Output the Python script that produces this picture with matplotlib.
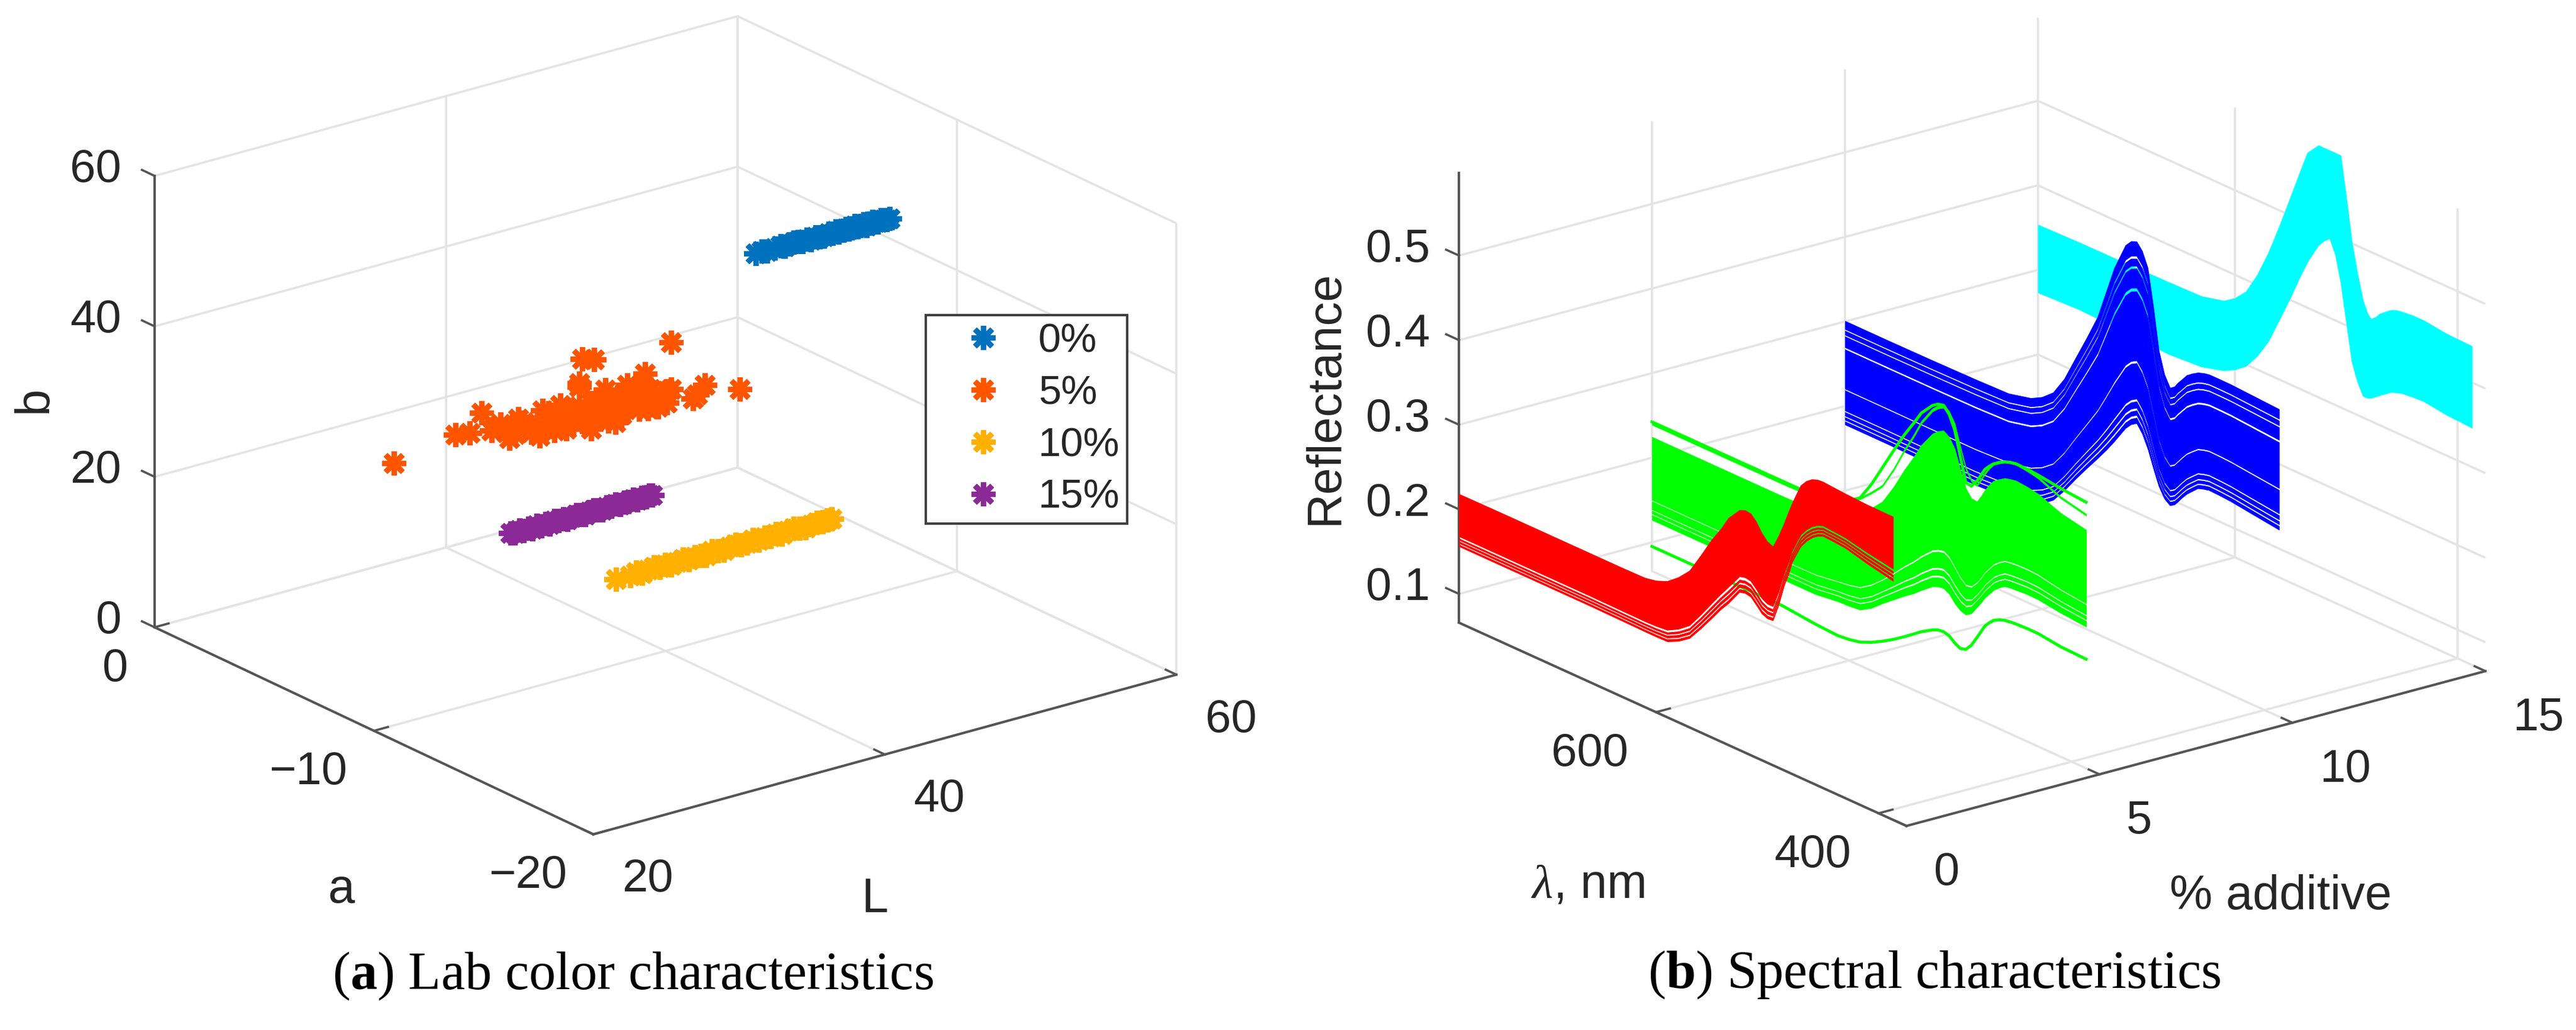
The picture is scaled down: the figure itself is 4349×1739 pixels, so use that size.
import numpy as np
import matplotlib
matplotlib.use("Agg")
from matplotlib import pyplot as plt
from mpl_toolkits.mplot3d import proj3d

W, H, DPI = 4349, 1739, 300

# panel (a): Lab values per additive level
lab0_L = [49.2, 49.6, 50.0, 50.5, 50.9, 51.2, 51.5, 51.8, 52.1, 52.4, 52.7, 53.0, 53.3, 53.6, 53.9, 54.2, 54.5, 54.7,
          54.9, 55.2, 55.4, 55.6, 55.8, 56.0, 56.2, 56.4, 56.6, 56.8, 57.0, 57.2, 57.4, 57.6, 57.8, 58.0, 58.2, 58.4]
lab0_a = [-8.0] * 36
lab0_b = [45.2, 45.3, 45.1, 45.2, 45.3, 45.1, 45.2, 45.3, 45.2, 45.1, 45.2, 45.0, 45.2, 45.1, 45.0, 45.2, 45.1, 45.3,
          45.0, 45.1, 45.2, 45.0, 45.1, 45.3, 45.0, 45.1, 45.2, 44.9, 45.1, 45.2, 45.0, 44.9, 45.1, 45.0, 44.9, 45.0]

lab5_L = [33.8, 35.9, 37.7, 40.6, 43.3, 44.6, 46.4, 31.9, 36.1, 37.3, 38.6, 40.4, 41.9, 43.1, 44.9, 47.2, 38.8, 39.6, 44.9, 49.6,
          25.9, 30.1, 31.1, 33.2, 34.8, 36.5, 39.0, 40.9, 42.3, 44.0,
          35.0, 37.0, 38.0, 39.5, 41.2, 42.8, 33.6, 36.0, 40.2, 41.5, 43.0, 38.8, 37.5, 34.2,
          32.6, 34.0, 35.3, 35.7, 36.9, 37.3, 38.2, 38.6, 39.4, 39.8, 40.2, 41.5, 41.5, 42.5, 43.5, 44.0, 44.6, 42.7, 41.1, 39.4,
          36.5, 34.4, 46.7, 38.6]
lab5_a = [-7.0] * 68
lab5_b = [27.4, 26.6, 26.6, 26.1, 26.3, 26.4, 26.0, 31.8, 29.9, 30.0, 31.7, 30.4, 30.2, 31.1, 28.1, 27.4, 35.3, 34.8, 34.3, 25.6,
          28.3, 29.9, 29.6, 29.6, 29.0, 28.1, 27.8, 27.9, 28.1, 27.3,
          28.4, 27.6, 28.8, 29.0, 28.9, 29.2, 28.3, 27.8, 28.2, 27.0, 27.4, 27.0, 28.4, 27.8,
          29.1, 28.9, 27.4, 28.5, 26.8, 28.2, 27.2, 29.1, 29.2, 26.8, 29.2, 26.5, 28.6, 29.6, 28.8, 26.2, 28.0, 26.6, 25.7, 25.7,
          29.4, 29.7, 26.4, 32.2]

lab10_L = [36.6, 37.6, 38.0, 38.4, 38.8, 39.2, 39.6, 40.0, 40.4, 40.8, 41.2, 41.6, 42.0, 42.4, 42.8, 43.2, 43.6, 44.0, 44.4,
           44.8, 45.2, 45.6, 46.0, 46.4, 46.8, 47.2, 47.6, 48.0, 48.4, 48.8, 49.2, 49.6, 50.0, 50.4, 50.8, 51.1, 51.4]
lab10_a = [-10.0] * 37
lab10_b = [11.3, 11.3, 11.5, 11.2, 11.4, 11.6, 11.3, 11.5, 11.2, 11.4, 11.6, 11.3, 11.5, 11.4, 11.2, 11.6, 11.4, 11.3, 11.5,
           11.6, 11.3, 11.4, 11.6, 11.3, 11.5, 11.4, 11.6, 11.3, 11.5, 11.6, 11.4, 11.3, 11.5, 11.6, 11.4, 11.5, 11.5]

lab15_L = [36.9, 37.2, 37.5, 37.8, 38.1, 38.4, 38.7, 39.0, 39.3, 39.6, 39.9, 40.2, 40.5, 40.8, 41.1, 41.4, 41.7,
           42.0, 42.3, 42.6, 42.9, 43.2, 43.5, 43.8, 44.1, 44.4, 44.7, 45.0, 45.3, 45.6, 45.9, 46.2, 46.4, 46.6]
lab15_a = [-5.0] * 34
lab15_b = [10.4, 10.3, 10.5, 10.3, 10.4, 10.2, 10.5, 10.3, 10.4, 10.2, 10.5, 10.3, 10.4, 10.2, 10.3, 10.5, 10.3,
           10.2, 10.4, 10.5, 10.3, 10.2, 10.4, 10.3, 10.5, 10.2, 10.4, 10.3, 10.5, 10.2, 10.4, 10.3, 10.4, 10.3]

lab_labels = ["0%", "5%", "10%", "15%"]
lab_colors = ["#0072BD", "#FF5400", "#FFB000", "#8B2A96"]

L_ticks = [20, 40, 60]
a_ticks = [-20, -10, 0]
b_ticks = [0, 20, 40, 60]

# panel (b): envelopes of the spectra, one pair per additive level
wavelength = np.array([777, 740, 700, 660, 630, 610, 600, 590, 580, 570, 560, 550, 542, 535, 525, 520, 515, 510,
                       505, 500, 495, 490, 485, 481, 478, 474, 470, 465, 460, 455, 450, 440, 430, 410, 387])

cyan_high = np.array([.3535, .3547, .355, .3558, .3567, .3634, .3725, .3864, .412, .444, .482, .5224, .555, .5831, .598, .598, .598, .598,
                      .598, .552, .5023, .468, .4386, .426, .421, .425, .4317, .437, .442, .445, .446, .4475, .4475, .444, .443])
cyan_low = np.array([.2732, .2753, .2734, .2706, .2734, .2809, .288, .2981, .316, .3392, .371, .4034, .431, .4538, .4798, .488, .4938, .478,
                     .4473, .403, .3596, .339, .3254, .3255, .3273, .331, .3353, .34, .3449, .3475, .3496, .351, .3517, .348, .3463])
blue_high = np.array([.3008, .3007, .301, .3017, .3028, .3093, .3165, .3279, .35, .3802, .41, .4413, .477, .5082, .5408, .5485, .5513, .543,
                      .5261, .483, .4341, .409, .3962, .4, .4062, .413, .42, .425, .4291, .4315, .4329, .433, .4328, .4313, .4295])
blue_low = np.array([.1782, .1781, .1775, .1769, .1792, .1846, .191, .2008, .218, .2375, .256, .274, .289, .3031, .3246, .332, .3364, .327,
                     .3121, .292, .2736, .262, .2571, .2605, .2657, .273, .2796, .286, .2922, .2945, .2961, .2955, .2945, .2909, .2869])
green_high = np.array([.2246, .2246, .2246, .2246, .2255, .231, .237, .246, .258, .2718, .295, .3217, .341, .3597, .379, .385, .3886, .384,
                       .3731, .352, .3324, .3235, .3227, .332, .3402, .349, .3562, .361, .3653, .367, .3683, .367, .3646, .3542, .3479])
green_low = np.array([.1264, .1264, .1264, .1264, .1264, .13, .1305, .132, .14, .1514, .162, .1724, .18, .188, .1984, .2012, .2022, .1985,
                      .1904, .185, .183, .1875, .1978, .206, .2131, .22, .227, .233, .2374, .2385, .239, .24, .2397, .236, .2333])
green_top = np.array([.2424, .2424, .2424, .2424, .2426, .249, .255, .2644, .286, .3119, .338, .3632, .381, .3975, .4124, .417, .4185, .411,
                      .3954, .367, .339, .338, .347, .357, .3648, .371, .3763, .381, .3845, .387, .3883, .388, .3868, .3832, .3805])
green_bottom = np.array([.0951, .0951, .0951, .0951, .091, .0895, .091, .0938, .0995, .1068, .115, .1242, .132, .139, .1471, .15, .1509, .149,
                         .1436, .14, .142, .15, .1621, .172, .1797, .186, .1913, .195, .1972, .1982, .1989, .1995, .1995, .196, .195])
red_high = np.array([.2182, .2185, .2185, .2185, .2185, .2189, .2215, .2269, .2375, .2512, .275, .3, .317, .3344, .3498, .3525, .3517, .345,
                     .3346, .3275, .3248, .34, .3581, .374, .3853, .399, .4119, .42, .425, .4275, .4281, .427, .426, .4247, .4244])
red_low = np.array([.1562, .1562, .1562, .1562, .1557, .1553, .1552, .1556, .162, .1713, .1885, .2069, .222, .2336, .2529, .2545, .2532, .2465,
                    .2393, .2365, .2372, .258, .2845, .30, .3155, .328, .3398, .349, .356, .361, .3638, .363, .3617, .3549, .3484])

# parts of each envelope that are covered by spectra, the rest stays as gaps
cyan_bands = [(0, 1)]
blue_bands = [(0, .03), (.045, .07), (.085, .12), (.135, .33), (.345, .725), (.745, .85), (.865, .905), (.92, 1)]
green_bands = [(0, .06), (.075, .11), (.125, .225), (.24, 1), (1.145, 1.165)]
red_bands = [(0, .035), (.06, .095), (.12, .15), (.19, 1)]

pct_ticks = [0, 5, 10, 15]
wave_ticks = [400, 600]
refl_ticks = [0.1, 0.2, 0.3, 0.4, 0.5]

AXIS_COLOR = "#555555"
GRID_COLOR = "#e4e4e4"
TEXT_COLOR = "#262626"
TICK_PT = 18.7
LABEL_PT = 19.5

plt.rcParams["font.family"] = ["Liberation Sans", "DejaVu Sans"]
plt.rcParams["mathtext.fontset"] = "custom"
plt.rcParams["mathtext.it"] = "Liberation Serif:italic"
plt.rcParams["mathtext.rm"] = "Liberation Serif"
plt.rcParams["mathtext.bf"] = "Liberation Serif:bold"
plt.rcParams["grid.color"] = GRID_COLOR
plt.rcParams["grid.linewidth"] = 0.9


def style_axes(ax):
    ax.set_facecolor("none")
    for axis in (ax.xaxis, ax.yaxis, ax.zaxis):
        axis.set_pane_color((1, 1, 1, 0))
        axis.pane.set_edgecolor("none")
        axis.line.set_color(AXIS_COLOR)
        axis.line.set_linewidth(1.0)
        axis._axinfo["tick"]["inward_factor"] = 0
        axis._axinfo["tick"]["outward_factor"] = 0.3
        axis._axinfo["tick"]["linewidth"] = {True: 0.9, False: 0.9}
        axis.set_ticklabels([])
    # z ticks run along the second horizontal axis, as in the original
    ax.zaxis._get_tickdir = lambda position: 1
    ax.zaxis._axinfo["tick"]["outward_factor"] = 0.36
    ax.tick_params(axis="both", color=AXIS_COLOR)
    ax.tick_params(axis="z", color=AXIS_COLOR)


def tick_texts(ax, points, dx, dy, ha="center"):
    # writes tick labels at a fixed pixel offset from the projected tick position
    for x, y, z, value in points:
        x2, y2, _ = proj3d.proj_transform(x, y, z, ax.get_proj())
        text = f"{value:g}".replace("-", "\u2212")
        ax.annotate(text, xy=(x2, y2), xycoords="data", xytext=(dx, -dy - 4), textcoords="offset pixels",
                    ha=ha, va="center", fontsize=TICK_PT, color=TEXT_COLOR, annotation_clip=False)


def fit_axes(fig, ax, corner0, corner1, target0, target1):
    # moves the square axes so that two box corners land on given image pixels
    side = 800
    ax.set_position([0.25, 0.25, side / W, side / H])
    fig.canvas.draw()
    pts = []
    for c in (corner0, corner1):
        x, y, _ = proj3d.proj_transform(c[0], c[1], c[2], ax.get_proj())
        pts.append(ax.transData.transform((x, y)))
    t0 = np.array([target0[0], H - target0[1]], dtype=float)
    t1 = np.array([target1[0], H - target1[1]], dtype=float)
    scale = np.linalg.norm(t1 - t0) / np.linalg.norm(pts[1] - pts[0])
    center = np.array([0.25 * W + side / 2, 0.25 * H + side / 2])
    new_side = side * scale
    new_center = t0 - (pts[0] - center) * scale
    ax.set_position([(new_center[0] - new_side / 2) / W, (new_center[1] - new_side / 2) / H,
                     new_side / W, new_side / H])


def put_text(fig, x, y, text, **kwargs):
    fig.text(x / W, 1 - y / H, text, ha="center", va="center", **kwargs)


def draw_lab(fig):
    ax = fig.add_subplot(projection="3d", proj_type="ortho", computed_zorder=False)
    ax.view_init(elev=21.07, azim=-127.3, roll=0)
    ax.set_box_aspect((1237, 1222, 816.5))
    series = [(lab0_L, lab0_a, lab0_b), (lab5_L, lab5_a, lab5_b), (lab10_L, lab10_a, lab10_b), (lab15_L, lab15_a, lab15_b)]
    for (l_val, a_val, b_val), name, color in zip(series, lab_labels, lab_colors):
        ax.plot(l_val, a_val, b_val, linestyle="none", marker=(8, 2, 0), markersize=9.8,
                markeredgewidth=2.2, color=color, label=name)
    ax.set_xlim(20, 60, view_margin=0)
    ax.set_ylim(-20, 0, view_margin=0)
    ax.set_zlim(0, 60, view_margin=0)
    ax.set_xticks(L_ticks)
    ax.set_yticks(a_ticks)
    ax.set_zticks(b_ticks)
    style_axes(ax)
    tick_texts(ax, [(t, -20, 0, t) for t in L_ticks], 92, 72)
    tick_texts(ax, [(20, t, 0, t) for t in a_ticks], -45, 66, ha="right")
    tick_texts(ax, [(20, 0, t, t) for t in b_ticks], -56, -15, ha="right")
    fit_axes(fig, ax, (60, -20, 0), (20, 0, 60), (1986, 1139), (261, 297))
    ax.legend(loc="upper left", bbox_to_anchor=(1563 / W, 1 - 532 / H), bbox_transform=fig.transFigure,
              borderaxespad=0, fontsize=16.5, fancybox=False, framealpha=1, edgecolor="#404040",
              numpoints=1, borderpad=0.18, handlelength=2.46, handletextpad=0.12, labelspacing=0.347,
              labelcolor=TEXT_COLOR).get_frame().set_linewidth(1.0)
    put_text(fig, 576, 1503, "a", fontsize=LABEL_PT, color=TEXT_COLOR)
    put_text(fig, 1477, 1519, "L", fontsize=LABEL_PT, color=TEXT_COLOR)
    put_text(fig, 58, 674, "b", fontsize=LABEL_PT, color=TEXT_COLOR, rotation=90)
    return ax


def draw_band(ax, pct, low, high, bands, color, order):
    for lo, hi in bands:
        z1 = low + lo * (high - low)
        z2 = low + hi * (high - low)
        ax.fill_between(pct, wavelength, z1, pct, wavelength, z2, mode="polygon", shade=False,
                        facecolor=color, edgecolor=color, linewidth=0.2, zorder=order)


def draw_spectra(fig):
    ax = fig.add_subplot(projection="3d", proj_type="ortho", computed_zorder=False)
    ax.view_init(elev=20.4, azim=-127.5, roll=0)
    ax.set_box_aspect((1234, 1243, 812))
    draw_band(ax, 15, cyan_low, cyan_high, cyan_bands, "#00ffff", 2)
    draw_band(ax, 10, blue_low, blue_high, blue_bands, "#0000ff", 3)
    draw_band(ax, 5, green_low, green_high, green_bands, "#00ff00", 4)
    ax.plot(np.full(len(wavelength), 5), wavelength, green_top, color="#00ff00", linewidth=1.2, zorder=4)
    ax.plot(np.full(len(wavelength), 5), wavelength, green_bottom, color="#00ff00", linewidth=1.2, zorder=4)
    draw_band(ax, 0, red_low, red_high, red_bands, "#ff0000", 5)
    ax.set_xlim(0, 15, view_margin=0)
    ax.set_ylim(375, 777, view_margin=0)
    ax.set_zlim(0.066, 0.598, view_margin=0)
    ax.set_xticks(pct_ticks)
    ax.set_yticks(wave_ticks)
    ax.set_zticks(refl_ticks)
    style_axes(ax)
    tick_texts(ax, [(t, 375, 0.066, t) for t in pct_ticks], 46, 75, ha="left")
    tick_texts(ax, [(0, t, 0.066, t) for t in wave_ticks], -112, 66)
    tick_texts(ax, [(0, 777, t, t) for t in refl_ticks], -49, -14, ha="right")
    fit_axes(fig, ax, (15, 375, 0.066), (0, 777, 0.598), (4196, 1133), (2462, 294))
    put_text(fig, 2681, 1494, r"$\lambda$, nm", fontsize=LABEL_PT, color=TEXT_COLOR)
    put_text(fig, 3850, 1514, "% additive", fontsize=LABEL_PT, color=TEXT_COLOR)
    put_text(fig, 2237, 671, "Reflectance", fontsize=LABEL_PT, color=TEXT_COLOR, rotation=90)
    return ax


def main():
    fig = plt.figure(figsize=((W + 0.1) / DPI, (H + 0.1) / DPI), dpi=DPI, facecolor="white")
    draw_lab(fig)
    draw_spectra(fig)
    put_text(fig, 1068, 1647, r"($\mathbf{a}$) Lab color characteristics", fontsize=21.7,
             family="Liberation Serif", color="black")
    put_text(fig, 3266, 1645, r"($\mathbf{b}$) Spectral characteristics", fontsize=21.7,
             family="Liberation Serif", color="black")
    fig.savefig("out.png", dpi=DPI)


if __name__ == "__main__":
    main()
